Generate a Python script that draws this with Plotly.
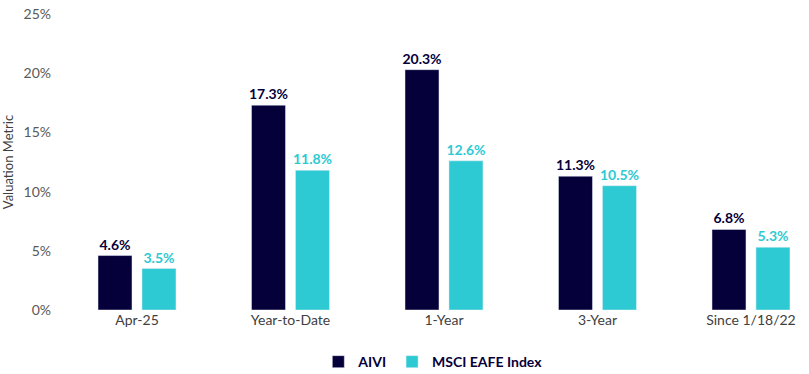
import plotly.graph_objects as go

categories = ["Apr-25", "Year-to-Date", "1-Year", "3-Year", "Since 1/18/22"]
aivi = [4.6, 17.3, 20.3, 11.3, 6.8]
msci = [3.5, 11.8, 12.6, 10.5, 5.3]
series_names = ["AIVI", "MSCI EAFE Index"]
y_ticks = [0, 5, 10, 15, 20, 25]
y_tick_labels = ["0%", "5%", "10%", "15%", "20%", "25%"]

navy = "#05003a"
cyan = "#2ecad3"
font_family = "Lato, 'Noto Sans', sans-serif"

fig = go.Figure()
fig.add_trace(go.Bar(
    x=categories, y=aivi, name=series_names[0], marker_color=navy,
    text=[f"{v:.1f}%" for v in aivi], textposition="outside", constraintext="none",
    textfont=dict(color=navy, size=14, family=font_family, weight="bold"),
    cliponaxis=False, hoverinfo="skip",
))
fig.add_trace(go.Bar(
    x=categories, y=msci, name=series_names[1], marker_color=cyan,
    text=[f"{v:.1f}%" for v in msci], textposition="outside", constraintext="none",
    textfont=dict(color=cyan, size=14, family=font_family, weight="bold"),
    cliponaxis=False, hoverinfo="skip",
))

fig.update_layout(
    width=809, height=374,
    margin=dict(l=60, r=4, t=14, b=64, autoexpand=False),
    paper_bgcolor="white", plot_bgcolor="white",
    barmode="group", bargap=0.427, bargroupgap=0.227,
    font=dict(family=font_family, size=14, color="#595959"),
    showlegend=True,
    legend=dict(
        orientation="h", x=0.535, xref="container", xanchor="center",
        y=0.032, yref="container", yanchor="middle",
        font=dict(size=14, color=navy, family=font_family, weight="bold"),
        itemwidth=30, traceorder="normal",
    ),
    xaxis=dict(
        range=[-0.5016, 4.352], showgrid=False, zeroline=False, showline=False,
        tickfont=dict(size=14, color="#404040"), ticks="", automargin=False,
    ),
    yaxis=dict(
        range=[0, 25], tickvals=y_ticks, ticktext=y_tick_labels,
        showgrid=False, zeroline=False, showline=False, automargin=False,
        tickfont=dict(size=14, color="#595959"), ticks="", ticklabelstandoff=8,
        title=dict(text="Valuation Metric", font=dict(size=13, color="#404040"), standoff=10),
    ),
)

fig.write_html("out.html")
